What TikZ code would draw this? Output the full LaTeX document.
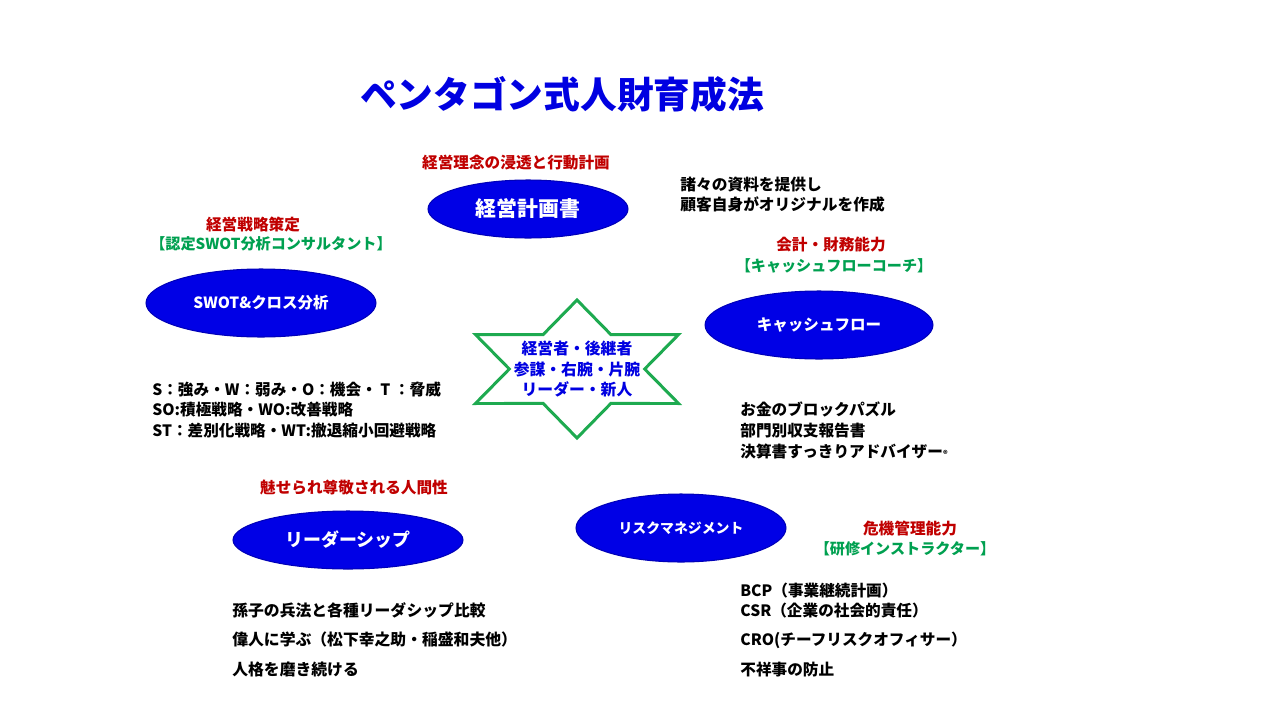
\documentclass[tikz,border=0pt]{standalone}
\usepackage{fontspec}
\setmainfont{Noto Sans CJK JP}
\usetikzlibrary{shapes.geometric}

\definecolor{titleblue}{RGB}{0,0,225}
\definecolor{ovalblue}{RGB}{0,0,230}
\definecolor{labelred}{RGB}{192,0,0}
\definecolor{labelgreen}{RGB}{0,160,80}
\definecolor{stargreen}{RGB}{30,170,80}

\begin{document}
\begin{tikzpicture}[x=0.02cm, y=-0.02cm,
        oval/.style={ellipse, fill=ovalblue, draw=ovalblue!80!black, line width=0.6pt, inner sep=0pt, text=white},
        redlabel/.style={text=labelred, inner sep=0pt, font=\fontsize{8.9}{11}\selectfont\bfseries},
        greenlabel/.style={text=labelgreen, inner sep=0pt, font=\fontsize{8.6}{11}\selectfont\bfseries},
        memo/.style={anchor=base west, align=left, inner sep=0pt},
        starline/.style={draw=stargreen, line width=1.7pt, fill=white}]
    \useasboundingbox (0,0) rectangle (1280,720);

    % title
    \node[text=titleblue, font=\fontsize{20.9}{25}\selectfont\bfseries] (title) at (562,94) {ペンタゴン式人財育成法};

    % centre star
    \begin{scope}[shift={(577,369)}, xscale=1.7]
        \draw[starline] (90:69) -- (60:39.8) -- (30:69) -- (0:39.8) -- (-30:69) -- (-60:39.8)
            -- (-90:69) -- (-120:39.8) -- (-150:69) -- (180:39.8) -- (150:69) -- (120:39.8) -- cycle;
    \end{scope}
    \node[align=center, text=titleblue, font=\fontsize{9}{11.6}\selectfont\bfseries] (core) at (577,369)
        {経営者・後継者\\参謀・右腕・片腕\\リーダー・新人};

    % five ovals
    \node[oval, minimum width=4cm, minimum height=1.16cm, font=\fontsize{11.9}{14}\selectfont\bfseries] (plan) at (528,209) {経営計画書};
    \node[oval, minimum width=4.6cm, minimum height=1.36cm, font=\fontsize{8.8}{11}\selectfont\bfseries] (swot) at (261,303) {SWOT\&クロス分析};
    \node[oval, minimum width=4.56cm, minimum height=1.36cm, font=\fontsize{8.85}{11}\selectfont\bfseries] (cash) at (819,325) {キャッシュフロー};
    \node[oval, minimum width=4.6cm, minimum height=1.16cm, font=\fontsize{10.2}{12}\selectfont\bfseries] (leader) at (348,540) {リーダーシップ};
    \node[oval, minimum width=4.2cm, minimum height=1.36cm, font=\fontsize{7.9}{10}\selectfont\bfseries] (risk) at (681,528) {リスクマネジメント};

    % labels
    \node[redlabel] (planlabel) at (516,163) {経営理念の浸透と行動計画};
    \node[redlabel] (swotlabel) at (253,225) {経営戦略策定};
    \node[greenlabel] (swotqual) at (271,244) {【認定SWOT分析コンサルタント】};
    \node[redlabel] (cashlabel) at (831,245) {会計・財務能力};
    \node[greenlabel] (cashqual) at (834,266) {【キャッシュフローコーチ】};
    \node[redlabel] (leaderlabel) at (354,488) {魅せられ尊敬される人間性};
    \node[redlabel] (risklabel) at (910,529) {危機管理能力};
    \node[greenlabel] (riskqual) at (905,549) {【研修インストラクター】};

    % notes (placed at the baseline of their last line)
    \node[memo, font=\fontsize{8.95}{11.3}\selectfont\bfseries] (plannote) at (680,210)
        {諸々の資料を提供し\\顧客自身がオリジナルを作成};
    \node[memo, font=\fontsize{8.9}{11.6}\selectfont\bfseries] (swotnote) at (152,436)
        {S：強み・W：弱み・O：機会・ T ：脅威\\SO:積極戦略・WO:改善戦略\\ST：差別化戦略・WT:撤退縮小回避戦略};
    \node[memo, font=\fontsize{8.9}{11.9}\selectfont\bfseries] (cashnote) at (740,457)
        {お金のブロックパズル\\部門別収支報告書\\決算書すっきりアドバイザー{\tiny ®}};
    \node[memo, font=\fontsize{9}{16.7}\selectfont\bfseries] (leadernote) at (232,675)
        {孫子の兵法と各種リーダシップ比較\\偉人に学ぶ（松下幸之助・稲盛和夫他）\\人格を磨き続ける};
    \node[memo, font=\fontsize{8.9}{11.3}\selectfont\bfseries] (risknote) at (740,675)
        {BCP（事業継続計画）\\CSR（企業の社会的責任）\\[5.4pt]CRO(チーフリスクオフィサー）\\[5.4pt]不祥事の防止};
\end{tikzpicture}
\end{document}
